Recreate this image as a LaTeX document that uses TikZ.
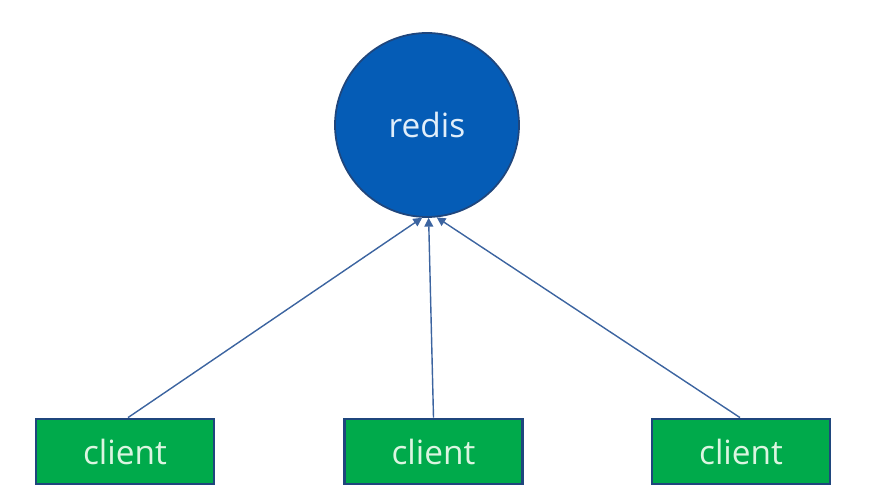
\documentclass[tikz,border=0pt]{standalone}
\usepackage{fontspec}
\setmainfont{Open Sans}
\usepackage{xcolor}
\usepackage{tikz}
\usetikzlibrary{arrows.meta, positioning}
\definecolor{redisblue}{RGB}{5,92,182}
\definecolor{darkblue}{RGB}{31,70,125}
\definecolor{clientgreen}{RGB}{0,170,75}
\definecolor{linkblue}{RGB}{60,100,160}
\definecolor{redistext}{RGB}{225,238,250}
\definecolor{clienttext}{RGB}{220,245,225}

\begin{document}
\begin{tikzpicture}[
    server/.style={circle, draw=darkblue, line width=1pt, fill=redisblue, minimum size=3.68cm, inner sep=0pt, text=redistext, font=\fontsize{19}{22}\selectfont},
    client/.style={rectangle, draw=darkblue, line width=1.6pt, fill=clientgreen, minimum width=3.56cm, minimum height=1.3cm, inner sep=0pt, text=clienttext, font=\fontsize{19}{22}\selectfont},
    arrow/.style={-{Triangle[width=5pt,length=5pt]}, linkblue, line width=0.8pt}
]
\useasboundingbox (0,0) rectangle (17.46,10.08);

% Server
\node[server] (redis) at (8.54,7.58) {redis};

% Clients
\node[client] (client1) at (2.50,1.05) {client};
\node[client] (client2) at (8.67,1.05) {client};
\node[client] (client3) at (14.82,1.05) {client};

% Arrows
\draw[arrow] ([xshift=0.06cm]client1.north) -- (redis.-93);
\draw[arrow] (client2.north) -- (redis.-89);
\draw[arrow] ([xshift=-0.02cm]client3.north) -- (redis.-84);

\end{tikzpicture}
\end{document}
